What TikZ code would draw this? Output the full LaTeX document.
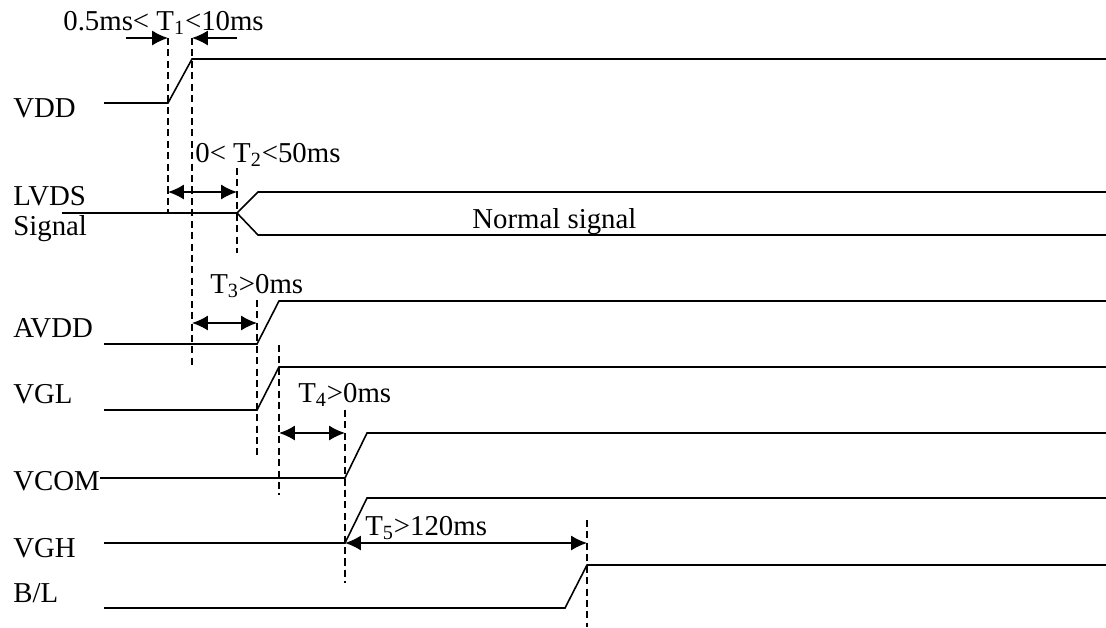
\documentclass[tikz,border=0pt]{standalone}
\usepackage{fontspec}
\setmainfont{Liberation Serif}
\usetikzlibrary{calc,arrows.meta}

\tikzset{
    sig/.style={line width=0.9pt},
    guide/.style={line width=0.7pt, dash pattern=on 4pt off 2.5pt},
    span/.style={line width=0.9pt, {Latex[length=9pt,width=8.5pt]}-{Latex[length=9pt,width=8.5pt]}},
    tipin/.style={line width=0.9pt, -{Latex[length=9pt,width=8.5pt]}},
    lbl/.style={anchor=base west, inner sep=0pt, font=\fontsize{16.4}{19}\selectfont}
}

\begin{document}
\begin{tikzpicture}[x=0.02cm,y=-0.02cm]
                \useasboundingbox (0,0) rectangle (1106,627);

                % signal names
                \node[lbl] (vdd) at (13,117) {VDD};
                \node[lbl] (lvds) at (13,205) {LVDS};
                \node[lbl] (lvdssig) at (13,235) {Signal};
                \node[lbl] (avdd) at (13,337) {AVDD};
                \node[lbl] (vgl) at (13,403) {VGL};
                \node[lbl] (vcom) at (13,490) {VCOM};
                \node[lbl] (vgh) at (13,557) {VGH};
                \node[lbl] (bl) at (13,602) {B/L};

                % waveforms
                \draw[sig] (104,103) -- (168,103) coordinate (vddlo) -- (192,59) coordinate (vddhi) -- (1106,59);
                \draw[sig] (62,213) -- (237,213) coordinate (lvdsx) -- (258,192) -- (1106,192);
                \draw[sig] (lvdsx) -- (258,235) -- (1106,235);
                \draw[sig] (104,344) -- (257,344) coordinate (avddlo) -- (279,301) -- (1106,301);
                \draw[sig] (104,410) -- (257,410) -- (279,367) coordinate (vglhi) -- (1106,367);
                \draw[sig] (100,478) -- (345,478) coordinate (vcomlo) -- (367,433) -- (1106,433);
                \draw[sig] (104,543) -- (345,543) coordinate (vghlo) -- (367,498) -- (1106,498);
                \draw[sig] (104,608) -- (565,608) -- (587,565) coordinate (blhi) -- (1106,565);

                % guide lines
                \draw[guide] (168,38) coordinate (g1) -- (168,212);
                \draw[guide] (192,38) coordinate (g2) -- (192,365);
                \draw[guide] (237,168) -- (237,253);
                \draw[guide] (257,300) -- (257,455);
                \draw[guide] (279,345) -- (279,495);
                \draw[guide] (345,410) -- (345,583);
                \draw[guide] (587,520) -- (587,627);

                % timing arrows
                \draw[tipin] (126,38) -- (g1);
                \draw[tipin] (237,38) -- (g2);
                \draw[span] (168,192) coordinate (t2a) -- (t2a -| lvdsx);
                \draw[span] (192,323) coordinate (t3a) -- (t3a -| avddlo);
                \draw[span] (vglhi |- 0,433) -- (vcomlo |- 0,433);
                \draw[span] (vghlo) -- (vghlo -| blhi);

                \node[lbl] (t1) at (63,30) {0.5ms< T\textsubscript{1}<10ms};
                \node[lbl] (t2) at (195,162) {0< T\textsubscript{2}<50ms};
                \node[lbl] (norm) at (472,228) {Normal signal};
                \node[lbl] (t3) at (210,293) {T\textsubscript{3}>0ms};
                \node[lbl] (t4) at (298,402) {T\textsubscript{4}>0ms};
                \node[lbl] (t5) at (365,535) {T\textsubscript{5}>120ms};
\end{tikzpicture}
\end{document}
